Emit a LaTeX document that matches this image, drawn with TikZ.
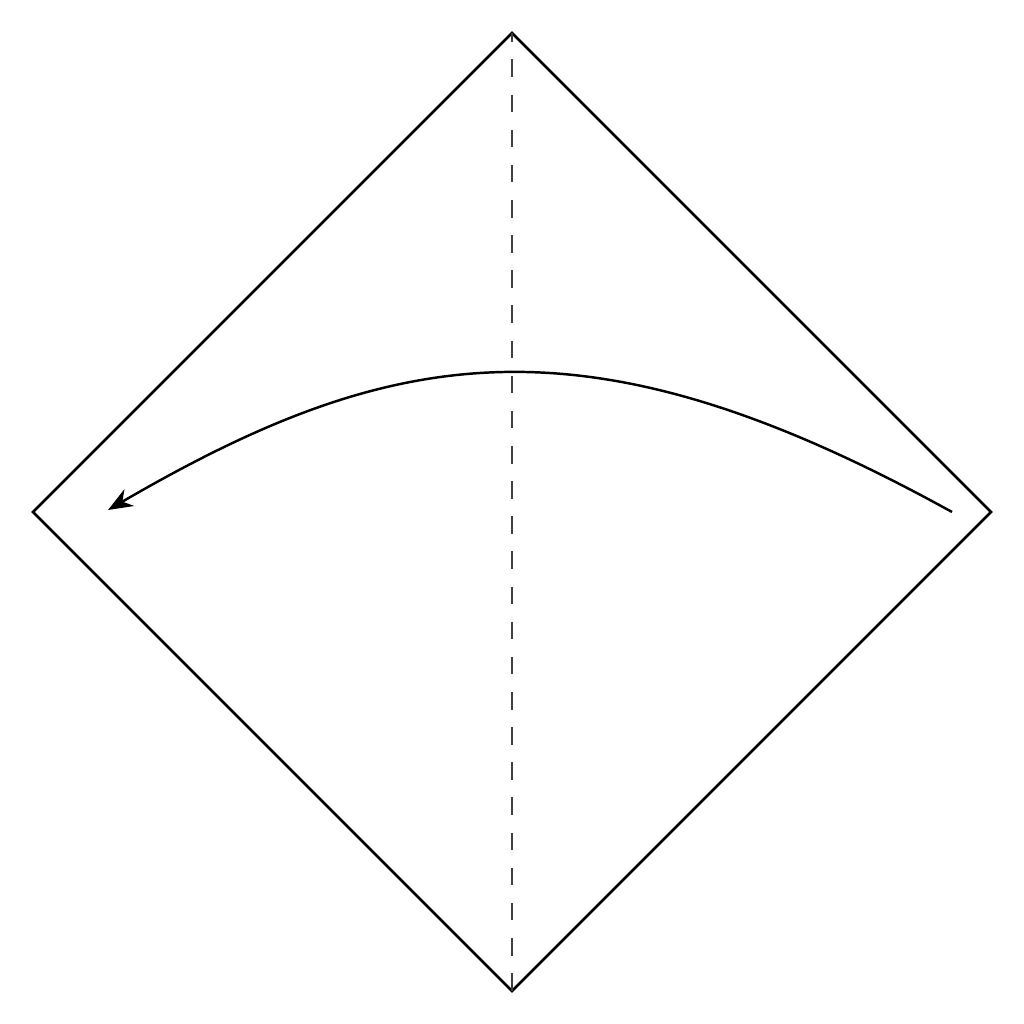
\documentclass[tikz,border=0pt]{standalone}
\usepackage{tikz}
\usetikzlibrary{arrows.meta}

\begin{document}
\begin{tikzpicture}
				\useasboundingbox (0,0) rectangle (10.24,10.24);
				\coordinate (top) at (5.12,9.91);
				\coordinate (right) at (9.91,5.12);
				\coordinate (bottom) at (5.12,0.33);
				\coordinate (left) at (0.33,5.12);
				\coordinate (start) at (9.52,5.12);
				\coordinate (tip) at (1.08,5.14);
				\draw[line width=.75pt, line join=miter] (top) -- (right) -- (bottom) -- (left) -- cycle;
				\draw[line width=.6pt, black!75, dash pattern=on 5pt off 5pt, dash phase=2.5pt] (top) -- (bottom);
				\draw[line width=.7pt, -{Stealth[length=7pt, width=5.5pt]}] (start) .. controls (5.88,7.13) and (3.95,6.81) .. (tip);
			\end{tikzpicture}
\end{document}
